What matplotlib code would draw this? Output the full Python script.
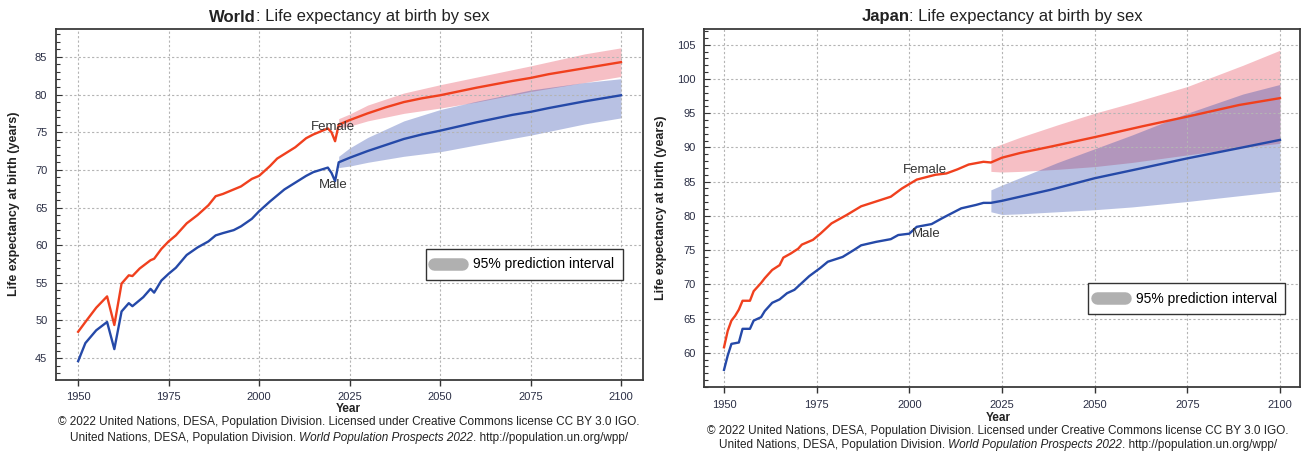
import matplotlib
matplotlib.use("Agg")
import matplotlib.pyplot as plt
from matplotlib.lines import Line2D
from matplotlib.ticker import MultipleLocator

FONT = ['Liberation Sans Narrow', 'Liberation Sans', 'DejaVu Sans']
plt.rcParams['font.family'] = FONT

# ---------------- World data ----------------
world_f_years = [1950, 1952, 1955, 1958, 1960, 1962, 1964, 1965, 1967, 1970, 1971, 1973, 1975, 1977,
                 1980, 1983, 1986, 1988, 1990, 1993, 1995, 1998, 2000, 2003, 2005, 2007, 2010, 2013,
                 2015, 2017, 2019, 2020, 2021, 2022, 2025, 2030, 2035, 2040, 2045, 2050, 2060, 2070,
                 2075, 2080, 2090, 2100]
world_female = [48.5, 49.8, 51.7, 53.2, 49.4, 54.9, 56.0, 55.9, 56.9, 58.0, 58.2, 59.5, 60.5, 61.3,
                62.9, 64.0, 65.3, 66.5, 66.8, 67.4, 67.8, 68.8, 69.2, 70.5, 71.5, 72.1, 73.0, 74.2,
                74.7, 75.1, 75.5, 75.0, 73.8, 76.0, 76.6, 77.5, 78.3, 79.0, 79.5, 79.9, 80.9, 81.8,
                82.2, 82.7, 83.5, 84.3]
world_m_years = [1950, 1952, 1955, 1958, 1960, 1962, 1964, 1965, 1968, 1970, 1971, 1973, 1975, 1977,
                 1980, 1983, 1986, 1988, 1990, 1993, 1995, 1998, 2000, 2003, 2005, 2007, 2010, 2013,
                 2015, 2017, 2019, 2020, 2021, 2022, 2025, 2030, 2035, 2040, 2045, 2050, 2060, 2070,
                 2075, 2080, 2090, 2100]
world_male = [44.6, 47.0, 48.7, 49.8, 46.2, 51.2, 52.3, 51.9, 53.1, 54.2, 53.7, 55.3, 56.2, 57.0,
              58.7, 59.7, 60.5, 61.3, 61.6, 62.0, 62.5, 63.5, 64.5, 65.8, 66.6, 67.4, 68.3, 69.2,
              69.7, 70.0, 70.3, 69.6, 68.5, 71.0, 71.6, 72.5, 73.3, 74.1, 74.7, 75.2, 76.3, 77.3,
              77.7, 78.2, 79.1, 79.9]
band_years = [2022, 2025, 2030, 2040, 2050, 2060, 2075, 2090, 2100]
world_f_hi = [76.8, 77.4, 78.6, 80.2, 81.3, 82.3, 83.8, 85.4, 86.2]
world_f_lo = [75.6, 75.8, 76.5, 77.5, 78.2, 79.0, 80.4, 81.6, 82.4]
world_m_hi = [71.8, 72.9, 74.3, 76.5, 78.0, 79.1, 80.6, 81.6, 82.1]
world_m_lo = [70.3, 70.5, 71.0, 71.8, 72.4, 73.3, 74.6, 76.1, 76.9]

# ---------------- Japan data ----------------
japan_f_years = [1950, 1951, 1952, 1953, 1954, 1955, 1957, 1958, 1960, 1961, 1963, 1965, 1966, 1968,
                 1970, 1971, 1974, 1976, 1979, 1983, 1987, 1991, 1995, 1998, 2002, 2007, 2010, 2013,
                 2016, 2020, 2022, 2025, 2030, 2038, 2050, 2063, 2075, 2089, 2100]
japan_female = [60.8, 63.2, 64.7, 65.4, 66.3, 67.6, 67.6, 69.0, 70.2, 70.9, 72.1, 72.8, 73.9, 74.5,
                75.2, 75.8, 76.5, 77.4, 78.9, 80.1, 81.4, 82.1, 82.8, 84.0, 85.3, 86.0, 86.2, 86.8,
                87.5, 87.9, 87.8, 88.5, 89.2, 90.1, 91.5, 93.1, 94.5, 96.2, 97.2]
japan_m_years = [1950, 1951, 1952, 1954, 1955, 1957, 1958, 1960, 1961, 1963, 1965, 1967, 1969, 1971,
                 1973, 1976, 1978, 1982, 1985, 1987, 1991, 1995, 1997, 2000, 2002, 2006, 2009, 2014,
                 2018, 2020, 2022, 2025, 2038, 2050, 2063, 2075, 2089, 2100]
japan_male = [57.5, 59.6, 61.3, 61.5, 63.5, 63.5, 64.7, 65.2, 66.1, 67.3, 67.8, 68.7, 69.2, 70.2,
              71.2, 72.4, 73.3, 74.0, 75.0, 75.7, 76.2, 76.6, 77.2, 77.4, 78.4, 78.8, 79.7, 81.1,
              81.6, 81.9, 81.9, 82.2, 83.8, 85.5, 87.0, 88.4, 89.9, 91.1]
japan_f_hi = [89.9, 90.5, 91.5, 93.3, 95.0, 96.5, 98.9, 102.0, 104.2]
japan_f_lo = [86.5, 86.4, 86.5, 86.8, 87.2, 87.8, 88.9, 90.0, 90.6]
japan_m_hi = [83.8, 84.5, 85.6, 87.8, 89.8, 91.8, 95.0, 97.8, 99.2]
japan_m_lo = [80.6, 80.2, 80.3, 80.6, 80.9, 81.3, 82.1, 83.0, 83.6]

x_ticks = [1950, 1975, 2000, 2025, 2050, 2075, 2100]
world_yticks = [45, 50, 55, 60, 65, 70, 75, 80, 85]
japan_yticks = [60, 65, 70, 75, 80, 85, 90, 95, 100, 105]

RED = '#f0401e'
BLUE = '#2549a8'
BAND_F = (0.90, 0.24, 0.31)
BAND_M = (0.16, 0.27, 0.67)
TICKC = '#2b2f45'

W, H = 1307, 453
fig = plt.figure(figsize=(W / 100, H / 100), dpi=100)


def px(x):
    return x / W


def py(y):
    return 1 - y / H


def make_panel(rect, fy, fv, my, mv, fhi, flo, mhi, mlo, yticks, xlim, ylim,
               flab, mlab, legpos):
    ax = fig.add_axes(rect)
    ax.fill_between(band_years, flo, fhi, color=BAND_F, alpha=0.33, lw=0)
    ax.fill_between(band_years, mlo, mhi, color=BAND_M, alpha=0.33, lw=0)
    ax.plot(fy, fv, color=RED, lw=1.7, zorder=3)
    ax.plot(my, mv, color=BLUE, lw=1.7, zorder=3)
    ax.set_xlim(*xlim)
    ax.set_ylim(*ylim)
    ax.set_xticks(x_ticks)
    ax.set_yticks(yticks)
    ax.yaxis.set_minor_locator(MultipleLocator(1))
    ax.grid(True, which='major', color='#b4b4b4', ls=(0, (2, 2)), lw=0.8)
    ax.tick_params(axis='x', direction='out', length=4, width=1, color='#333',
                   labelsize=8, labelcolor=TICKC, pad=5)
    ax.tick_params(axis='y', which='major', direction='in', length=4, width=0.8, color='#333',
                   labelsize=8, labelcolor=TICKC, pad=6)
    ax.tick_params(axis='y', which='minor', direction='in', length=3, width=0.8, color='#333')
    for s in ax.spines.values():
        s.set_color('#3a3a3a')
        s.set_linewidth(1.3)
    ax.text(flab[0], flab[1], 'Female', fontsize=9.5, color='#333', ha='center', va='center',
            zorder=4)
    ax.text(mlab[0], mlab[1], 'Male', fontsize=9.5, color='#333', ha='center', va='center',
            zorder=4)
    handle = Line2D([0], [0], color='#b0b0b0', lw=9, solid_capstyle='round')
    leg = ax.legend([handle], ['95% prediction interval'], loc='upper right',
                    bbox_to_anchor=legpos, borderaxespad=0, fancybox=False, framealpha=1,
                    edgecolor='#333', fontsize=10, handlelength=2.0, borderpad=0.6,
                    handletextpad=0.8)
    leg.get_frame().set_linewidth(1.0)
    return ax


axL = make_panel([px(55.7), py(380), px(642.7 - 55.7), (380 - 29) / H],
                 world_f_years, world_female, world_m_years, world_male,
                 world_f_hi, world_f_lo, world_m_hi, world_m_lo,
                 world_yticks, (1943.8, 2106), (42.1, 88.7),
                 (2020.4, 75.7), (2020.4, 68.0), (0.966, 0.373))
axR = make_panel([px(704), py(387), px(1300 - 704), (387 - 29) / H],
                 japan_f_years, japan_female, japan_m_years, japan_male,
                 japan_f_hi, japan_f_lo, japan_m_hi, japan_m_lo,
                 japan_yticks, (1944.6, 2105.4), (55.0, 107.3),
                 (2004.2, 86.7), (2004.5, 77.4), (0.975, 0.29))

# titles (bold country + regular remainder), centred as a whole
fig.canvas.draw()
renderer = fig.canvas.get_renderer()
for country, cx, cy in [('World', 349, 17), ('Japan', 1002, 17)]:
    t1 = fig.text(0, py(cy), country, fontsize=12, fontweight='bold', color='#222',
                  ha='left', va='center')
    t2 = fig.text(0, py(cy), ': Life expectancy at birth by sex', fontsize=12, color='#222',
                  ha='left', va='center')
    w1 = t1.get_window_extent(renderer).width
    w2 = t2.get_window_extent(renderer).width
    x0 = cx - (w1 + w2) / 2
    t1.set_x(px(x0))
    t2.set_x(px(x0 + w1))

for xlab_x, xlab_y, ylab_x, ylab_y in [(348, 409, 14, 204), (998, 418, 661, 208)]:
    fig.text(px(xlab_x), py(xlab_y), 'Year', fontsize=8.5, fontweight='bold', color='#222',
             ha='center', va='center')
    fig.text(px(ylab_x), py(ylab_y), 'Life expectancy at birth (years)', fontsize=9,
             fontweight='bold', color='#222', ha='center', va='center', rotation=90)

FOOT = ['Liberation Sans', 'DejaVu Sans']
for cx, y1, y2 in [(349, 422, 438), (998, 431, 445)]:
    fig.text(px(cx), py(y1),
             '© 2022 United Nations, DESA, Population Division. Licensed under Creative Commons license CC BY 3.0 IGO.',
             fontsize=8.5, color='#222', ha='center', va='center', family=FOOT)
    ta = fig.text(0, py(y2), 'United Nations, DESA, Population Division. ', fontsize=8.5,
                  color='#222', ha='left', va='center', family=FOOT)
    tb = fig.text(0, py(y2), 'World Population Prospects 2022', fontsize=8.5, style='italic',
                  color='#222', ha='left', va='center', family=FOOT)
    tc = fig.text(0, py(y2), '. http://population.un.org/wpp/', fontsize=8.5,
                  color='#222', ha='left', va='center', family=FOOT)
    wa = ta.get_window_extent(renderer).width
    wb = tb.get_window_extent(renderer).width
    wc = tc.get_window_extent(renderer).width
    x0 = cx - (wa + wb + wc) / 2
    ta.set_x(px(x0))
    tb.set_x(px(x0 + wa))
    tc.set_x(px(x0 + wa + wb))

fig.savefig('out.png', dpi=100)
